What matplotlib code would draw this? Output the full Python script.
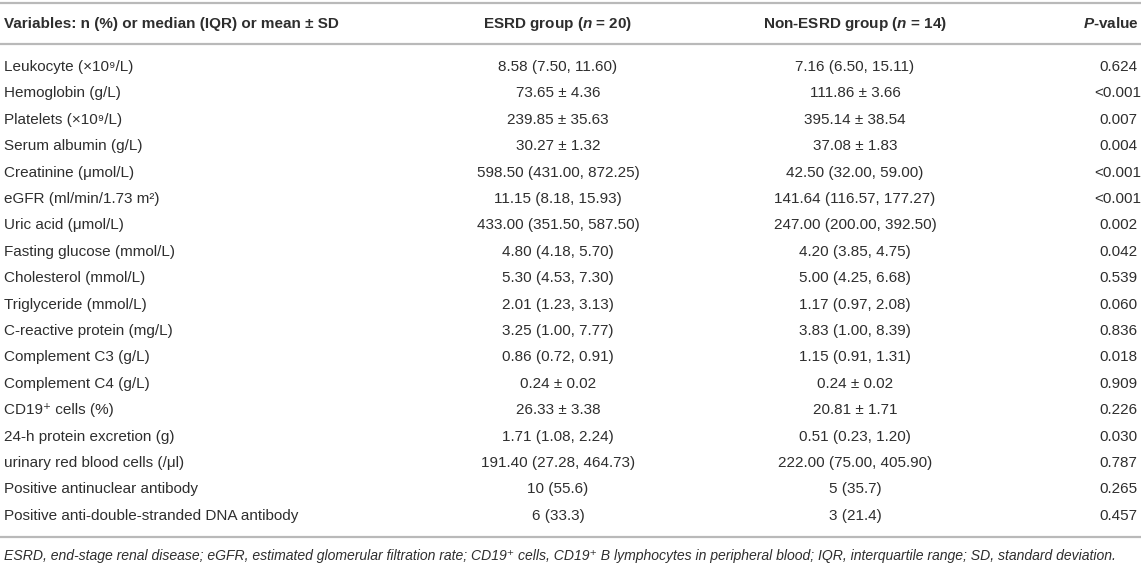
import matplotlib
matplotlib.use("Agg")
import matplotlib.pyplot as plt

plt.rcParams['font.family'] = ['Liberation Sans', 'DejaVu Sans']
plt.rcParams['mathtext.fontset'] = 'custom'
plt.rcParams['mathtext.rm'] = 'Liberation Sans'
plt.rcParams['mathtext.it'] = 'Liberation Sans:italic'
plt.rcParams['mathtext.bf'] = 'Liberation Sans:bold:italic'
plt.rcParams['mathtext.default'] = 'rm'

# 表格数据
headers = ["Variables: n (%) or median (IQR) or mean ± SD",
           r"ESRD group ($\mathbf{n}$ = 20)",
           r"Non-ESRD group ($\mathbf{n}$ = 14)",
           r"$\mathbf{P}$-value"]

variables = [
    "Leukocyte (×10⁹/L)",
    "Hemoglobin (g/L)",
    "Platelets (×10⁹/L)",
    "Serum albumin (g/L)",
    "Creatinine (μmol/L)",
    "eGFR (ml/min/1.73 m²)",
    "Uric acid (μmol/L)",
    "Fasting glucose (mmol/L)",
    "Cholesterol (mmol/L)",
    "Triglyceride (mmol/L)",
    "C-reactive protein (mg/L)",
    "Complement C3 (g/L)",
    "Complement C4 (g/L)",
    "CD19⁺ cells (%)",
    "24-h protein excretion (g)",
    "urinary red blood cells (/μl)",
    "Positive antinuclear antibody",
    "Positive anti-double-stranded DNA antibody",
]

esrd = [
    "8.58 (7.50, 11.60)", "73.65 ± 4.36", "239.85 ± 35.63", "30.27 ± 1.32",
    "598.50 (431.00, 872.25)", "11.15 (8.18, 15.93)", "433.00 (351.50, 587.50)",
    "4.80 (4.18, 5.70)", "5.30 (4.53, 7.30)", "2.01 (1.23, 3.13)",
    "3.25 (1.00, 7.77)", "0.86 (0.72, 0.91)", "0.24 ± 0.02", "26.33 ± 3.38",
    "1.71 (1.08, 2.24)", "191.40 (27.28, 464.73)", "10 (55.6)", "6 (33.3)",
]

non_esrd = [
    "7.16 (6.50, 15.11)", "111.86 ± 3.66", "395.14 ± 38.54", "37.08 ± 1.83",
    "42.50 (32.00, 59.00)", "141.64 (116.57, 177.27)", "247.00 (200.00, 392.50)",
    "4.20 (3.85, 4.75)", "5.00 (4.25, 6.68)", "1.17 (0.97, 2.08)",
    "3.83 (1.00, 8.39)", "1.15 (0.91, 1.31)", "0.24 ± 0.02", "20.81 ± 1.71",
    "0.51 (0.23, 1.20)", "222.00 (75.00, 405.90)", "5 (35.7)", "3 (21.4)",
]

p_values = [
    "0.624", "<0.001", "0.007", "0.004", "<0.001", "<0.001", "0.002", "0.042",
    "0.539", "0.060", "0.836", "0.018", "0.909", "0.226", "0.030", "0.787",
    "0.265", "0.457",
]

footnote = ("ESRD, end-stage renal disease; eGFR, estimated glomerular filtration rate; "
            "CD19⁺ cells, CD19⁺ B lymphocytes in peripheral blood; "
            "IQR, interquartile range; SD, standard deviation.")

W, H = 1143, 565
fig = plt.figure(figsize=(W / 100, H / 100), dpi=100)
ax = fig.add_axes([0, 0, 1, 1])
ax.set_xlim(0, W)
ax.set_ylim(H, 0)
ax.axis('off')

text_color = '#2e2e2e'
line_color = '#b9b9b9'
fs = 11

# 列位置
col_x = [4, 558, 855, 1118]
head_x = [4, 558, 855, 1111]
col_ha = ['left', 'center', 'center', 'center']

header_base = 28
row0_base = 71
row_h = 26.4

for x, ha, h in zip(head_x, col_ha, headers):
    ax.text(x, header_base, h, ha=ha, va='baseline', fontsize=fs,
            fontweight='bold', color=text_color)

for i, (v, a, b, p) in enumerate(zip(variables, esrd, non_esrd, p_values)):
    y = row0_base + i * row_h
    for x, ha, s in zip(col_x, col_ha, [v, a, b, p]):
        ax.text(x, y, s, ha=ha, va='baseline', fontsize=fs, color=text_color)

# 分隔线
for y in [3, 44, 537]:
    ax.plot([0, 1141], [y, y], color=line_color, linewidth=1.6,
            solid_capstyle='butt')

ax.text(4, 560, footnote, ha='left', va='baseline', fontsize=10.1,
        style='italic', color=text_color)

fig.savefig("out.png", dpi=100)
